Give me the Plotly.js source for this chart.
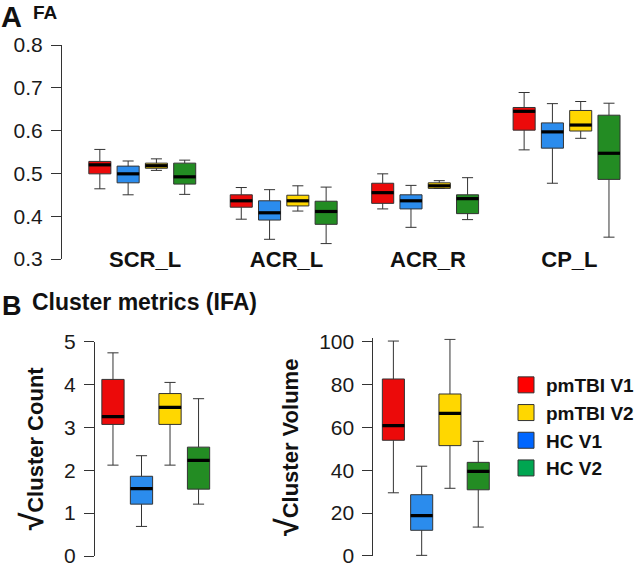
<!DOCTYPE html>
<html>
<head>
<meta charset="utf-8">
<script src="https://cdn.plot.ly/plotly-3.0.1.min.js"></script>
<style>html,body{margin:0;padding:0;background:#fff;}#chart{width:640px;height:566px;}</style>
</head>
<body>
<div id="chart"></div>
<script>
// ---------- DATA ----------
const regions = ['SCR_L', 'ACR_L', 'ACR_R', 'CP_L'];
const groups = ['pmTBI V1', 'pmTBI V2', 'HC V1', 'HC V2'];
// drawing order within each cluster (left to right)
const boxOrder = ['pmTBI V1', 'HC V1', 'pmTBI V2', 'HC V2'];

// five-number summaries per region: [lower whisker, Q1, median, Q3, upper whisker]
const fa_pmTBI_V1 = [[0.464, 0.499, 0.520, 0.528, 0.556], [0.393, 0.421, 0.436, 0.450, 0.467], [0.417, 0.430, 0.455, 0.477, 0.499], [0.555, 0.601, 0.645, 0.654, 0.689]];
const fa_HC_V1    = [[0.450, 0.478, 0.499, 0.517, 0.529], [0.346, 0.391, 0.408, 0.436, 0.462], [0.374, 0.417, 0.436, 0.450, 0.472], [0.477, 0.559, 0.597, 0.618, 0.663]];
const fa_pmTBI_V2 = [[0.507, 0.512, 0.518, 0.524, 0.534], [0.412, 0.424, 0.436, 0.449, 0.471], [0.465, 0.465, 0.471, 0.478, 0.483], [0.582, 0.599, 0.613, 0.647, 0.668]];
const fa_HC_V2    = [[0.451, 0.475, 0.492, 0.524, 0.531], [0.336, 0.381, 0.411, 0.435, 0.468], [0.392, 0.406, 0.441, 0.450, 0.490], [0.351, 0.486, 0.547, 0.636, 0.664]];

const count_pmTBI_V1 = [2.12, 3.07, 3.25, 4.12, 4.74];
const count_HC_V1    = [0.69, 1.21, 1.57, 1.86, 2.34];
const count_pmTBI_V2 = [2.12, 3.07, 3.47, 3.79, 4.05];
const count_HC_V2    = [1.21, 1.56, 2.23, 2.54, 3.67];

const volume_pmTBI_V1 = [29.5, 54.0, 60.8, 82.6, 100.3];
const volume_HC_V1    = [0.3, 12.0, 18.8, 28.6, 41.9];
const volume_pmTBI_V2 = [31.6, 51.5, 66.6, 75.6, 101.1];
const volume_HC_V2    = [13.5, 30.9, 39.5, 43.7, 53.5];

const faTicks = [0.3, 0.4, 0.5, 0.6, 0.7, 0.8];
const countTicks = [0, 1, 2, 3, 4, 5];
const volumeTicks = [0, 20, 40, 60, 80, 100];

// ---------- STYLE ----------
const boxColors = {'pmTBI V1': '#ec0a0a', 'HC V1': '#2b8ced', 'pmTBI V2': '#ffd700', 'HC V2': '#238c23'};
const legendColors = {'pmTBI V1': '#ff0000', 'pmTBI V2': '#ffd700', 'HC V1': '#0066ff', 'HC V2': '#00a651'};
const FONT = 'Liberation Sans, Arial, Helvetica, sans-serif';
const W = 640, H = 566;
const BOXW = 0.78;

const faData = {'pmTBI V1': fa_pmTBI_V1, 'HC V1': fa_HC_V1, 'pmTBI V2': fa_pmTBI_V2, 'HC V2': fa_HC_V2};
const countData = {'pmTBI V1': count_pmTBI_V1, 'HC V1': count_HC_V1, 'pmTBI V2': count_pmTBI_V2, 'HC V2': count_HC_V2};
const volumeData = {'pmTBI V1': volume_pmTBI_V1, 'HC V1': volume_HC_V1, 'pmTBI V2': volume_pmTBI_V2, 'HC V2': volume_HC_V2};

const traces = [];
function addBoxes(xa, ya, name, xs, stats) {
  traces.push({
    type: 'box', xaxis: xa, yaxis: ya, name: name, showlegend: false,
    x: xs,
    lowerfence: stats.map(s => s[0]), q1: stats.map(s => s[1]), median: stats.map(s => s[2]),
    q3: stats.map(s => s[3]), upperfence: stats.map(s => s[4]),
    width: BOXW, whiskerwidth: 0.5,
    fillcolor: boxColors[name], line: {color: '#333333', width: 1},
    hoverinfo: 'skip'
  });
}
function addMedians(xa, ya, xs, stats) {
  const mx = [], my = [];
  xs.forEach((x, i) => { mx.push(x - BOXW / 2, x + BOXW / 2, null); my.push(stats[i][2], stats[i][2], null); });
  traces.push({type: 'scatter', mode: 'lines', xaxis: xa, yaxis: ya, x: mx, y: my, showlegend: false,
    line: {color: '#000000', width: 3.2}, hoverinfo: 'skip'});
}

// Panel A
const medA = {x: [], s: []};
boxOrder.forEach((name, k) => {
  const xs = regions.map((r, g) => g * 5 + k + 1);
  addBoxes('x', 'y', name, xs, faData[name]);
  xs.forEach((x, i) => { medA.x.push(x); medA.s.push(faData[name][i]); });
});
addMedians('x', 'y', medA.x, medA.s);

// Panel B
const medC = {x: [], s: []}, medV = {x: [], s: []};
boxOrder.forEach((name, k) => {
  addBoxes('x2', 'y2', name, [k + 1], [countData[name]]);
  addBoxes('x3', 'y3', name, [k + 1], [volumeData[name]]);
  medC.x.push(k + 1); medC.s.push(countData[name]);
  medV.x.push(k + 1); medV.s.push(volumeData[name]);
});
addMedians('x2', 'y2', medC.x, medC.s);
addMedians('x3', 'y3', medV.x, medV.s);

// legend entries
groups.forEach(name => {
  traces.push({type: 'scatter', mode: 'markers', x: [null], y: [null], xaxis: 'x3', yaxis: 'y3',
    name: name, showlegend: true,
    marker: {symbol: 'square', size: 16, color: legendColors[name], line: {color: '#333333', width: 1}}});
});

const px = v => v / W;
const py = v => (H - v) / H;

const yBase = {
  showline: true, linecolor: '#333333', linewidth: 1, ticks: 'outside', ticklen: 10, tickwidth: 1,
  tickcolor: '#333333', showgrid: false, zeroline: false, ticklabelstandoff: 4, ticklabeloverflow: 'allow',
  tickfont: {family: FONT, size: 21, color: '#1a1a1a'}, fixedrange: true
};
const xHidden = {showline: false, showgrid: false, zeroline: false, showticklabels: false, ticks: '', fixedrange: true};

const layout = {
  width: W, height: H, margin: {l: 0, r: 0, t: 0, b: 0},
  paper_bgcolor: '#ffffff', plot_bgcolor: 'rgba(0,0,0,0)',
  boxmode: 'overlay', showlegend: true,
  font: {family: FONT, color: '#111111'},
  xaxis: Object.assign({}, xHidden, {
    domain: [px(62), px(636)], range: [1 - 38 / 28.33, 1 + 536 / 28.33],
    anchor: 'free', position: py(244),
    showticklabels: true, tickvals: regions.map((r, g) => g * 5 + 2.6), ticktext: regions,
    tickfont: {family: FONT, size: 22, weight: 'bold', color: '#111111'}
  }),
  yaxis: Object.assign({}, yBase, {
    domain: [py(259), py(45)], range: [0.3, 0.8], tickvals: faTicks, ticktext: faTicks.map(v => v.toFixed(1)), anchor: 'x'
  }),
  xaxis2: Object.assign({}, xHidden, {domain: [px(95), px(216)], range: [1 - 18 / 28.33, 4.6], anchor: 'y2'}),
  yaxis2: Object.assign({}, yBase, {
    domain: [py(556), py(341.7)], range: [0, 5], tickvals: countTicks, anchor: 'x2',
    title: {text: '<span style="font-size:32px">√</span>Cluster Count', standoff: 14,
      font: {family: FONT, size: 22, weight: 'bold', color: '#111111'}}
  }),
  xaxis3: Object.assign({}, xHidden, {domain: [px(374), px(496)], range: [1 - 20 / 28.33, 4.6], anchor: 'y3'}),
  yaxis3: Object.assign({}, yBase, {
    domain: [py(556), py(341.7 - 1.5 * 2.143)], range: [0, 101.5], tickvals: volumeTicks, anchor: 'x3',
    title: {text: '<span style="font-size:32px">√</span>Cluster Volume', standoff: 14,
      font: {family: FONT, size: 22, weight: 'bold', color: '#111111'}}
  }),
  legend: {
    x: px(507), y: py(366), xanchor: 'left', yanchor: 'top', bgcolor: 'rgba(0,0,0,0)',
    font: {family: FONT, size: 19, weight: 'bold', color: '#111111'}, itemclick: false, itemdoubleclick: false
  },
  annotations: [
    {text: 'A', xref: 'paper', yref: 'paper', x: px(0), y: 1, xanchor: 'left', yanchor: 'top', showarrow: false, borderpad: 0,
      font: {family: FONT, size: 29, weight: 'bold', color: '#111111'}},
    {text: 'FA', xref: 'paper', yref: 'paper', x: px(31), y: py(12), xanchor: 'left', yanchor: 'middle', showarrow: false,
      font: {family: FONT, size: 19, weight: 'bold', color: '#111111'}},
    {text: 'B', xref: 'paper', yref: 'paper', x: px(0), y: py(306), xanchor: 'left', yanchor: 'middle', showarrow: false,
      font: {family: FONT, size: 27, weight: 'bold', color: '#111111'}},
    {text: 'Cluster metrics (IFA)', xref: 'paper', yref: 'paper', x: px(30), y: py(302), xanchor: 'left', yanchor: 'middle', showarrow: false,
      font: {family: FONT, size: 23, weight: 'bold', color: '#111111'}}
  ]
};

Plotly.newPlot('chart', traces, layout, {staticPlot: true, displayModeBar: false});
</script>
</body>
</html>
